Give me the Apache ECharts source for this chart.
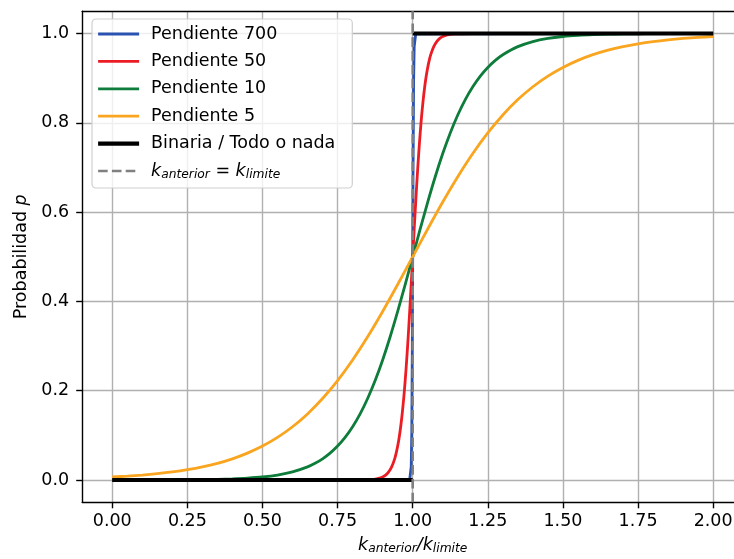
<!DOCTYPE html>
<html><head><meta charset="utf-8">
<script src="https://cdn.jsdelivr.net/npm/echarts@6/dist/echarts.min.js"></script>
<style>html,body{margin:0;padding:0;background:#fff}#c{width:734px;height:559px}</style>
</head><body><div id="c"></div>
<script>
// ---- data ----
const seriesNames = ['Pendiente 700', 'Pendiente 50', 'Pendiente 10', 'Pendiente 5', 'Binaria / Todo o nada', 'k_anterior = k_limite'];

const x700 = [0, 0.99, 0.995, 0.997, 0.999, 1.0, 1.001, 1.003, 1.005, 1.01, 2.0];
const y700 = [0, 0.001, 0.029, 0.109, 0.332, 0.5, 0.668, 0.891, 0.971, 0.999, 1.0];

const x50 = [0, 0.5, 0.8, 0.85, 0.86, 0.87, 0.88, 0.89, 0.9, 0.91, 0.92, 0.93, 0.94, 0.945, 0.95, 0.955, 0.96, 0.965, 0.97, 0.975, 0.98, 0.985, 0.99, 0.995, 1.0,
             1.005, 1.01, 1.015, 1.02, 1.025, 1.03, 1.035, 1.04, 1.045, 1.05, 1.055, 1.06, 1.07, 1.08, 1.09, 1.1, 1.11, 1.12, 1.13, 1.14, 1.15, 1.2, 1.5, 2.0];
const y50 = [0, 0, 0.0000, 0.0006, 0.0009, 0.0015, 0.0025, 0.0041, 0.0067, 0.011, 0.018, 0.0293, 0.0474, 0.0601, 0.0759, 0.0953, 0.1192, 0.148, 0.1824, 0.2227, 0.2689, 0.3208, 0.3775, 0.4378, 0.5,
             0.5622, 0.6225, 0.6792, 0.7311, 0.7773, 0.8176, 0.852, 0.8808, 0.9047, 0.9241, 0.9399, 0.9526, 0.9707, 0.982, 0.989, 0.9933, 0.9959, 0.9975, 0.9985, 0.9991, 0.9994, 1.0, 1.0, 1.0];

const x10 = [0, 0.05, 0.1, 0.15, 0.2, 0.25, 0.3, 0.35, 0.4, 0.45, 0.5, 0.55, 0.6, 0.65, 0.675, 0.7, 0.725, 0.75, 0.775, 0.8, 0.825, 0.85, 0.875, 0.9, 0.925, 0.95, 0.975, 1.0,
             1.025, 1.05, 1.075, 1.1, 1.125, 1.15, 1.175, 1.2, 1.225, 1.25, 1.275, 1.3, 1.35, 1.4, 1.45, 1.5, 1.55, 1.6, 1.65, 1.7, 1.75, 1.8, 1.85, 1.9, 1.95, 2.0];
const y10 = [0.0000, 0.0001, 0.0001, 0.0002, 0.0003, 0.0006, 0.0009, 0.0015, 0.0025, 0.0041, 0.0067, 0.011, 0.018, 0.0293, 0.0373, 0.0474, 0.0601, 0.0759, 0.0953, 0.1192, 0.148, 0.1824, 0.2227, 0.2689, 0.3208, 0.3775, 0.4378, 0.5,
             0.5622, 0.6225, 0.6792, 0.7311, 0.7773, 0.8176, 0.852, 0.8808, 0.9047, 0.9241, 0.9399, 0.9526, 0.9707, 0.982, 0.989, 0.9933, 0.9959, 0.9975, 0.9985, 0.9991, 0.9994, 0.9997, 0.9998, 0.9999, 0.9999, 1.0];

const x5 = [0, 0.05, 0.1, 0.15, 0.2, 0.25, 0.3, 0.35, 0.4, 0.45, 0.5, 0.55, 0.6, 0.65, 0.7, 0.75, 0.8, 0.85, 0.9, 0.95, 1.0,
            1.05, 1.1, 1.15, 1.2, 1.25, 1.3, 1.35, 1.4, 1.45, 1.5, 1.55, 1.6, 1.65, 1.7, 1.75, 1.8, 1.85, 1.9, 1.95, 2.0];
const y5 = [0.0067, 0.0086, 0.011, 0.0141, 0.018, 0.023, 0.0293, 0.0373, 0.0474, 0.0601, 0.0759, 0.0953, 0.1192, 0.148, 0.1824, 0.2227, 0.2689, 0.3208, 0.3775, 0.4378, 0.5,
            0.5622, 0.6225, 0.6792, 0.7311, 0.7773, 0.8176, 0.852, 0.8808, 0.9047, 0.9241, 0.9399, 0.9526, 0.9627, 0.9707, 0.977, 0.982, 0.9859, 0.989, 0.9914, 0.9933];

const binX = [0, 1, null, 1, 2];
const binY = [0, 0, null, 1, 1];

const refX = [1, 1];
const refY = [-0.05, 1.05];

const xTickValues = [0, 0.25, 0.5, 0.75, 1.0, 1.25, 1.5, 1.75, 2.0];
const xTickLabels = ['0.00', '0.25', '0.50', '0.75', '1.00', '1.25', '1.50', '1.75', '2.00'];
const yTickValues = [0, 0.2, 0.4, 0.6, 0.8, 1.0];
const yTickLabels = ['0.0', '0.2', '0.4', '0.6', '0.8', '1.0'];

// ---- build ----
const zip = (xs, ys) => xs.map((x, i) => (x === null ? [1, null] : [x, ys[i]]));
const labelFor = (vals, labs) => v => {
  let best = 0;
  vals.forEach((t, i) => { if (Math.abs(t - v) < Math.abs(vals[best] - v)) best = i; });
  return labs[best];
};

const FONT = 'DejaVu Sans';
const FS = 17.5;
const colors = ['#2a52b0', '#ec1c24', '#0e7c3a', '#f9a51f', '#000000', '#808080'];
const widths = [2.8, 2.8, 2.8, 2.8, 4.2, 2.6];

const richCommon = {
  sp: { width: 7, fontSize: FS, lineHeight: 20, fontFamily: FONT },
  n: { fontSize: FS, lineHeight: 20, fontFamily: FONT, color: '#000' },
  k: { fontSize: FS, lineHeight: 20, fontFamily: FONT, fontStyle: 'italic', color: '#000' },
  s: { fontSize: FS * 0.7, lineHeight: 11, fontFamily: FONT, fontStyle: 'italic', color: '#000', verticalAlign: 'bottom' }
};

const legendText = {
  'k_anterior = k_limite': '{sp| }{k|k}{s|anterior}{n| = }{k|k}{s|limite}'
};

const lineSeries = (name, data, i, extra) => Object.assign({
  name, type: 'line', data, symbol: 'none', showSymbol: false,
  lineStyle: { color: colors[i], width: widths[i] },
  itemStyle: { color: colors[i] },
  emphasis: { disabled: true }, silent: true, z: 2 + i
}, extra || {});

const smoothOpt = { smooth: 0.3 };
const spine = { color: '#000', width: 1.4 };

const option = {
  animation: false,
  backgroundColor: '#fff',
  textStyle: { fontFamily: FONT },
  grid: { left: 82.2, right: -9.2, top: 11.2, bottom: 56.7, outerBoundsMode: 'none', show: false, containLabel: false },
  xAxis: [{
    type: 'value', min: -0.1, max: 2.1,
    axisLine: { show: true, onZero: false, lineStyle: spine },
    axisTick: { show: true, inside: false, length: 6, lineStyle: spine, customValues: xTickValues },
    axisLabel: { customValues: xTickValues, formatter: labelFor(xTickValues, xTickLabels), fontSize: FS, fontFamily: FONT, color: '#000', margin: 10, showMinLabel: true, showMaxLabel: true },
    splitLine: { show: true, lineStyle: { color: '#b0b0b0', width: 1.4 } },
    name: '{k|k}{s|anterior}{k|/k}{s|limite}',
    nameLocation: 'middle', nameGap: 33,
    nameTextStyle: { rich: richCommon, fontSize: FS, color: '#000' }
  }, {
    type: 'value', position: 'top', min: -0.1, max: 2.1,
    axisLine: { show: true, onZero: false, lineStyle: spine },
    axisTick: { show: false }, axisLabel: { show: false }, splitLine: { show: false }
  }],
  yAxis: {
    type: 'value', min: -0.05, max: 1.05,
    axisLine: { show: true, onZero: false, lineStyle: spine },
    axisTick: { show: true, inside: false, length: 6, lineStyle: spine, customValues: yTickValues },
    axisLabel: { customValues: yTickValues, formatter: labelFor(yTickValues, yTickLabels), fontSize: FS, fontFamily: FONT, color: '#000', margin: 13 },
    splitLine: { show: true, lineStyle: { color: '#b0b0b0', width: 1.4 } },
    name: '{n|Probabilidad }{k|p}',
    nameLocation: 'middle', nameGap: 46,
    nameTextStyle: { rich: richCommon, fontSize: FS, color: '#000' }
  },
  legend: {
    show: true, orient: 'vertical', left: 92, top: 19,
    padding: [6, 17, 7, 4], itemGap: 9.4, itemWidth: 41, itemHeight: 18,
    backgroundColor: 'rgba(255,255,255,0.8)', borderColor: '#d0d0d0', borderWidth: 1.2, borderRadius: 4,
    selectedMode: false,
    itemStyle: { opacity: 0 },
    data: seriesNames.map((n, i) => ({ name: n, lineStyle: { width: widths[i] }, itemStyle: { opacity: 0 } })),
    formatter: name => legendText[name] || ('{sp| }{n|' + name + '}'),
    textStyle: { fontSize: FS, fontFamily: FONT, color: '#000', rich: richCommon }
  },
  series: [
    lineSeries(seriesNames[0], zip(x700, y700), 0),
    lineSeries(seriesNames[1], zip(x50, y50), 1, smoothOpt),
    lineSeries(seriesNames[2], zip(x10, y10), 2, smoothOpt),
    lineSeries(seriesNames[3], zip(x5, y5), 3, smoothOpt),
    lineSeries(seriesNames[4], zip(binX, binY), 4, { connectNulls: false }),
    lineSeries(seriesNames[5], zip(refX, refY), 5, { lineStyle: { color: colors[5], width: widths[5], type: [9.6, 4.2] } })
  ]
};

const chart = echarts.init(document.getElementById('c'), null, { renderer: 'canvas' });
chart.setOption(option);
</script>
</body></html>
